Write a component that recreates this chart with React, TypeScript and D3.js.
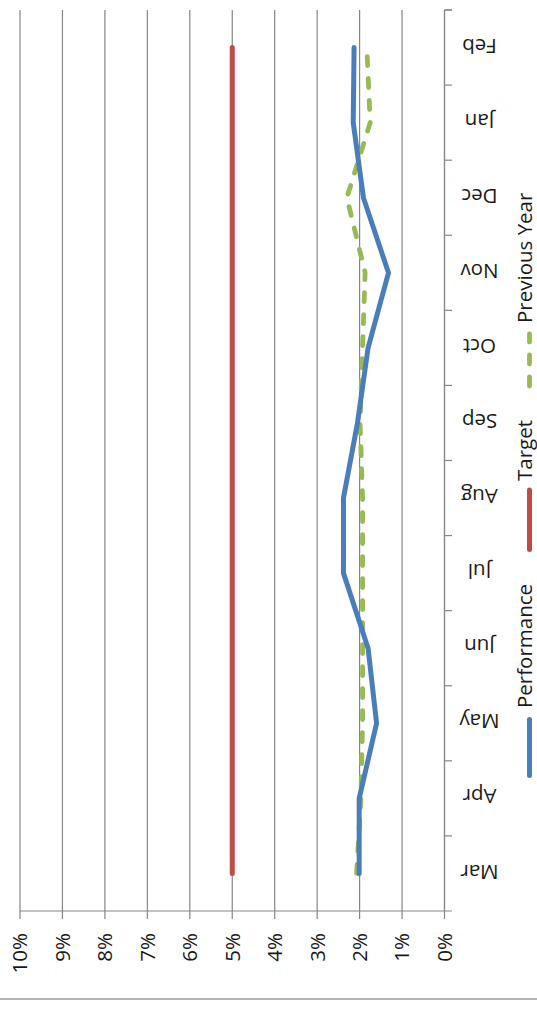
import React from "react";
import * as d3 from "d3";

// Monthly rates (percent), March through February
const categories = ["Mar", "Apr", "May", "Jun", "Jul", "Aug", "Sep", "Oct", "Nov", "Dec", "Jan", "Feb"];
const performance = [2.01, 2.01, 1.6, 1.8, 2.38, 2.38, 2.05, 1.8, 1.32, 1.91, 2.15, 2.13];
const target = [5, 5, 5, 5, 5, 5, 5, 5, 5, 5, 5, 5];
const previousYear = [2.07, 1.97, 1.93, 1.93, 1.93, 1.93, 1.99, 1.93, 1.87, 2.3, 1.75, 1.83];
const valueTicks = [0, 1, 2, 3, 4, 5, 6, 7, 8, 9, 10];

const W = 537;
const H = 1011;
const FONT = "'Open Sans', sans-serif";
const FS = 20.5;
const GRID = "#868686";
const BLUE = "#4A7EBB";
const RED = "#BE4B48";
const GREEN = "#98B954";

export default function App() {
  // The chart is laid out turned on its side: values run right-to-left along x,
  // months run bottom-to-top along y.
  const x = d3.scaleLinear().domain([0, 10]).range([444.5, 20]);
  const y = d3.scaleBand<string>().domain(categories).range([911, 10]).padding(0);
  const yc = (c: string) => (y(c) as number) + y.bandwidth() / 2;

  const line = (vals: number[]) =>
    d3
      .line<number>()
      .x((v) => x(v))
      .y((_, i) => yc(categories[i]))(vals) as string;

  const bandEdges = [...categories.map((c) => y(c) as number), y.range()[1]];
  const axisY = y.range()[0];
  const legendBase = 531.5;

  return (
    <svg
      width={W}
      height={H}
      style={{ position: "absolute", left: 0, top: 0, background: "#fff" }}
      fontFamily={FONT}
    >
      {/* value gridlines */}
      {valueTicks.map((t) => (
        <line key={"g" + t} x1={x(t)} x2={x(t)} y1={10} y2={axisY} stroke={GRID} strokeWidth={1.2} />
      ))}
      {/* value axis line and ticks */}
      <line x1={x(10)} x2={452} y1={axisY} y2={axisY} stroke={GRID} strokeWidth={1.2} />
      {valueTicks.map((t) => (
        <line key={"vt" + t} x1={x(t)} x2={x(t)} y1={axisY} y2={axisY + 8} stroke={GRID} strokeWidth={1.2} />
      ))}
      {valueTicks.map((t) => (
        <text
          key={"vl" + t}
          transform={`translate(${x(t)},933) rotate(-90)`}
          textAnchor="end"
          dy="0.36em"
          fontSize={FS}
          fill="#1a1a1a"
        >
          {t + "%"}
        </text>
      ))}
      {/* category axis */}
      <line x1={x(0)} x2={x(0)} y1={10} y2={axisY} stroke={GRID} strokeWidth={1.2} />
      {bandEdges.map((e, i) => (
        <line key={"ct" + i} x1={x(0)} x2={452} y1={e} y2={e} stroke={GRID} strokeWidth={1.2} />
      ))}
      {categories.map((c) => (
        <text
          key={"cl" + c}
          transform={`translate(479.5,${yc(c) - 1.5}) rotate(180)`}
          textAnchor="middle"
          dy="0.36em"
          fontSize={FS}
          fill="#1a1a1a"
        >
          {c}
        </text>
      ))}

      {/* series */}
      <path d={line(target)} fill="none" stroke={RED} strokeWidth={5} strokeLinecap="round" strokeLinejoin="round" />
      <path
        d={line(previousYear)}
        fill="none"
        stroke={GREEN}
        strokeWidth={4.8}
        strokeLinecap="round"
        strokeLinejoin="round"
        strokeDasharray="9 13"
      />
      <path d={line(performance)} fill="none" stroke={BLUE} strokeWidth={5} strokeLinecap="round" strokeLinejoin="round" />

      {/* legend */}
      <line x1={529.5} x2={529.5} y1={775.5} y2={719.5} stroke={BLUE} strokeWidth={5} strokeLinecap="round" />
      <text transform={`translate(${legendBase},708) rotate(-90)`} fontSize={FS} fill="#1a1a1a">Performance</text>
      <line x1={529.5} x2={529.5} y1={549.5} y2={490} stroke={RED} strokeWidth={5} strokeLinecap="round" />
      <text transform={`translate(${legendBase},481) rotate(-90)`} fontSize={FS} fill="#1a1a1a">Target</text>
      <line
        x1={529.5}
        x2={529.5}
        y1={386}
        y2={334}
        stroke={GREEN}
        strokeWidth={4.8}
        strokeLinecap="round"
        strokeDasharray="9 13"
      />
      <text transform={`translate(${legendBase},323) rotate(-90)`} fontSize={FS} fill="#1a1a1a">Previous Year</text>

      {/* chart border */}
      <line x1={0} x2={W} y1={999} y2={999} stroke="#9a9a9a" strokeWidth={1.5} />
    </svg>
  );
}
